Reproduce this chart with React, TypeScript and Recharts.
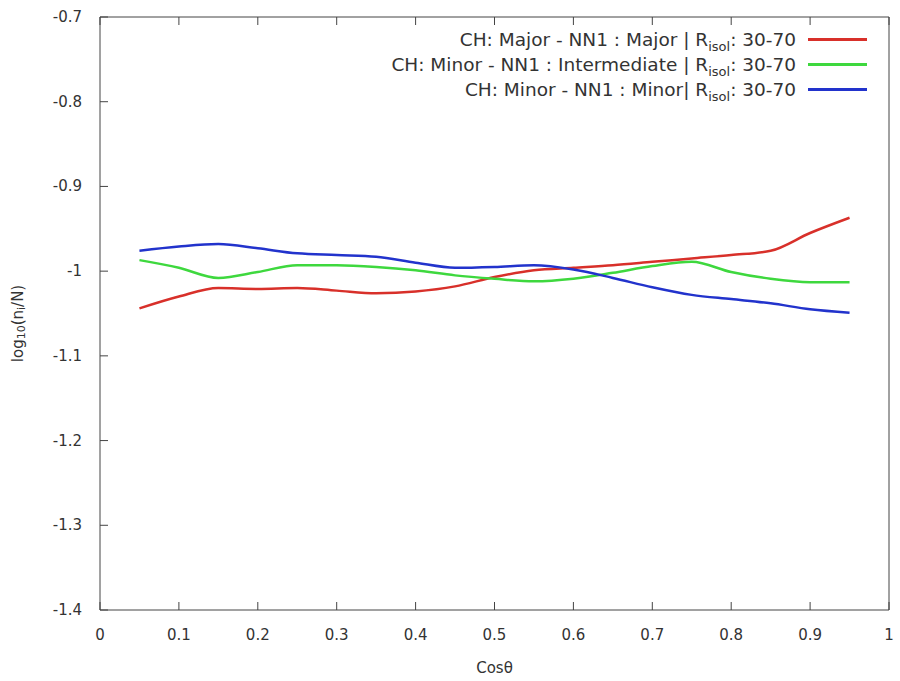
import React from "react";
import { Line, LineChart, XAxis, YAxis, Legend, Label } from "recharts";

const cosTheta = [0.05, 0.1, 0.15, 0.2, 0.25, 0.3, 0.35, 0.4, 0.45, 0.5, 0.55, 0.6, 0.65, 0.7, 0.75, 0.8, 0.85, 0.9, 0.95];
const majorMajor = [-1.044, -1.03, -1.02, -1.021, -1.02, -1.023, -1.026, -1.024, -1.018, -1.007, -0.999, -0.996, -0.993, -0.989, -0.985, -0.981, -0.976, -0.955, -0.937];
const minorIntermediate = [-0.987, -0.996, -1.008, -1.001, -0.993, -0.993, -0.995, -0.999, -1.005, -1.009, -1.012, -1.009, -1.002, -0.994, -0.989, -1.001, -1.009, -1.013, -1.013];
const minorMinor = [-0.976, -0.971, -0.968, -0.973, -0.979, -0.981, -0.983, -0.99, -0.996, -0.995, -0.993, -0.998, -1.008, -1.019, -1.028, -1.033, -1.038, -1.045, -1.049];

const xTicks = [0, 0.1, 0.2, 0.3, 0.4, 0.5, 0.6, 0.7, 0.8, 0.9, 1];
const yTicks = [-1.4, -1.3, -1.2, -1.1, -1, -0.9, -0.8, -0.7];

const series = [
  { key: "majorMajor", color: "#d8302a", pre: "CH: Major - NN1 : Major | R" },
  { key: "minorIntermediate", color: "#3ed83e", pre: "CH: Minor - NN1 : Intermediate | R" },
  { key: "minorMinor", color: "#2233cc", pre: "CH: Minor - NN1 : Minor| R" },
];

const data = cosTheta.map((x, i) => ({
  x,
  majorMajor: majorMajor[i],
  minorIntermediate: minorIntermediate[i],
  minorMinor: minorMinor[i],
}));

const font = "'DejaVu Sans', sans-serif";
const axisColor = "#444";
const textColor = "#333";
const tickLen = 8;

// gnuplot style: ticks point into the plot
const BottomTick = (props: any) => {
  const { x, y, payload } = props;
  return (
    <g>
      <line x1={x} x2={x} y1={y} y2={y - tickLen} stroke={axisColor} />
      <text x={x} y={y + 30} textAnchor="middle" fill={textColor} fontSize={15} fontFamily={font}>
        {String(payload.value)}
      </text>
    </g>
  );
};

const TopTick = (props: any) => {
  const { x, y } = props;
  return <line x1={x} x2={x} y1={y} y2={y + tickLen} stroke={axisColor} />;
};

const LeftTick = (props: any) => {
  const { x, y, payload } = props;
  return (
    <g>
      <line x1={x} x2={x + tickLen} y1={y} y2={y} stroke={axisColor} />
      <text x={x - 18} y={y + 5} textAnchor="end" fill={textColor} fontSize={15} fontFamily={font}>
        {String(payload.value)}
      </text>
    </g>
  );
};

const RightTick = (props: any) => {
  const { x, y } = props;
  return <line x1={x} x2={x - tickLen} y1={y} y2={y} stroke={axisColor} />;
};

const renderLegend = () => (
  <div style={{ fontFamily: font, fontSize: 18.5, color: textColor }}>
    {series.map((s) => (
      <div key={s.key} style={{ display: "flex", justifyContent: "flex-end", alignItems: "center", height: 25, lineHeight: "25px" }}>
        <span>
          {s.pre}
          <sub style={{ fontSize: 13, lineHeight: 0 }}>isol</sub>: 30-70
        </span>
        <span style={{ display: "inline-block", width: 59, height: 3, background: s.color, marginLeft: 12 }} />
      </div>
    ))}
  </div>
);

const YLabel = (props: any) => {
  const { viewBox } = props;
  const cy = viewBox.y + viewBox.height / 2 + 10;
  return (
    <text x={18} y={cy} transform={`rotate(-90, 18, ${cy})`} textAnchor="middle" dominantBaseline="middle" fill={textColor} fontSize={15} fontFamily={font}>
      log<tspan fontSize={11} dy={4}>10</tspan>
      <tspan dy={-4}>(n</tspan>
      <tspan fontSize={11} dy={4}>i</tspan>
      <tspan dy={-4}>/N)</tspan>
    </text>
  );
};

export default function App() {
  return (
    <div style={{ position: "absolute", left: 0, top: 0, background: "#fff" }}>
      <LineChart width={900} height={681} data={data} margin={{ top: 16, right: 10, bottom: 41, left: 40 }}>
        <XAxis
          dataKey="x"
          type="number"
          domain={[0, 1]}
          ticks={xTicks}
          tickSize={0}
          tickMargin={0}
          tickLine={false}
          height={30}
          stroke={axisColor}
          tick={<BottomTick />}
        >
          <Label value="Cosθ" position="bottom" offset={22} fill={textColor} fontSize={15} fontFamily={font} />
        </XAxis>
        <XAxis
          xAxisId="top"
          orientation="top"
          dataKey="x"
          type="number"
          domain={[0, 1]}
          ticks={xTicks}
          tickSize={0}
          tickMargin={0}
          tickLine={false}
          height={1}
          stroke={axisColor}
          tick={<TopTick />}
        />
        <YAxis
          yAxisId="left"
          type="number"
          domain={[-1.4, -0.7]}
          ticks={yTicks}
          tickSize={0}
          tickMargin={0}
          tickLine={false}
          width={60}
          stroke={axisColor}
          tick={<LeftTick />}
        >
          <Label content={<YLabel />} />
        </YAxis>
        <YAxis
          yAxisId="right"
          orientation="right"
          type="number"
          domain={[-1.4, -0.7]}
          ticks={yTicks}
          tickSize={0}
          tickMargin={0}
          tickLine={false}
          width={1}
          stroke={axisColor}
          tick={<RightTick />}
        />
        <Legend
          layout="horizontal"
          verticalAlign="middle"
          align="center"
          content={renderLegend}
          wrapperStyle={{ top: 27, left: "auto", right: 33, width: "auto", bottom: "auto" }}
        />
        {series.map((s) => (
          <Line
            key={s.key}
            yAxisId="left"
            type="monotone"
            dataKey={s.key}
            stroke={s.color}
            strokeWidth={2.5}
            dot={false}
            activeDot={false}
            isAnimationActive={false}
          />
        ))}
      </LineChart>
    </div>
  );
}
